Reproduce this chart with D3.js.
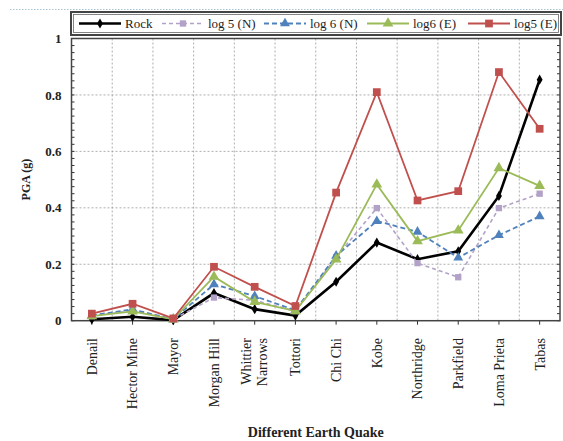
<!DOCTYPE html>
<html>
<head>
<meta charset="utf-8">
<script src="https://cdn.jsdelivr.net/npm/d3@7"></script>
<style>
  html, body { margin: 0; padding: 0; background: #fff; }
  svg { display: block; }
  text { font-family: "Liberation Serif", "Times New Roman", serif; fill: #222; }
</style>
</head>
<body>
<svg id="chart" width="563" height="441"></svg>
<script>
// Earthquake records along the x axis
const quakes = ["Denail", "Hector Mine", "Mayor", "Morgan Hill", "Whittier Narrows", "Tottori",
                "Chi Chi", "Kobe", "Northridge", "Parkfield", "Loma Prieta", "Tabas"];

// Peak ground acceleration (g) for each site condition
const rock   = [0.005, 0.014, 0.002, 0.098, 0.041, 0.018, 0.138, 0.277, 0.218, 0.246, 0.442, 0.854];
const log5N  = [0.016, 0.036, 0.005, 0.082, 0.072, 0.034, 0.225, 0.399, 0.204, 0.154, 0.399, 0.450];
const log6N  = [0.019, 0.040, 0.005, 0.129, 0.087, 0.037, 0.230, 0.353, 0.315, 0.223, 0.303, 0.370];
const log6E  = [0.016, 0.033, 0.005, 0.156, 0.067, 0.034, 0.217, 0.483, 0.282, 0.320, 0.541, 0.478];
const log5E  = [0.025, 0.060, 0.008, 0.191, 0.120, 0.052, 0.454, 0.810, 0.426, 0.459, 0.881, 0.680];

const yTicks = [0, 0.2, 0.4, 0.6, 0.8, 1];
const yTickLabels = ["0", "0.2", "0.4", "0.6", "0.8", "1"];

const series = [
  { name: "Rock",      values: rock,  color: "#000000", width: 2.6, dash: null,  marker: "diamond", size: 30 },
  { name: "log 5 (N)", values: log5N, color: "#b3a2c7", width: 1.6, dash: "4,3", marker: "square",  size: 40 },
  { name: "log 6 (N)", values: log6N, color: "#4f81bd", width: 1.8, dash: "5,3", marker: "triangle", size: 42 },
  { name: "log6 (E)",  values: log6E, color: "#9bbb59", width: 1.8, dash: null,  marker: "triangle", size: 50 },
  { name: "log5 (E)",  values: log5E, color: "#c0504d", width: 1.8, dash: null,  marker: "square",  size: 60 }
];

const svg = d3.select("#chart");
const plot = { left: 71.5, right: 560, top: 38.5, bottom: 320.7 };

const x = d3.scaleBand().domain(quakes).range([plot.left, plot.right]).padding(0);
const y = d3.scaleLinear().domain([0, 1]).range([plot.bottom, plot.top]);
const cx = d => x(d) + x.bandwidth() / 2;

// faint dotted rule across the top of the page
svg.append("line")
  .attr("x1", 10).attr("x2", 563).attr("y1", 9.5).attr("y2", 9.5)
  .attr("stroke", "#a9c4d6").attr("stroke-width", 1).attr("stroke-dasharray", "1.5,1.5");

// gridlines
const grid = svg.append("g");
grid.selectAll("line.h").data(yTicks.filter(t => t > 0 && t < 1)).join("line")
  .attr("x1", plot.left).attr("x2", plot.right)
  .attr("y1", d => y(d)).attr("y2", d => y(d))
  .attr("stroke", "#9a9a9a").attr("stroke-width", 0.8).attr("stroke-dasharray", "2,2");
grid.selectAll("line.v").data(quakes.slice(1)).join("line")
  .attr("x1", d => x(d)).attr("x2", d => x(d))
  .attr("y1", plot.top).attr("y2", plot.bottom)
  .attr("stroke", "#9a9a9a").attr("stroke-width", 0.8).attr("stroke-dasharray", "2,2");

// y axis (left) with major labels and minor ticks
const minor = d3.range(0, 1.0001, 0.025);
const yAxisL = svg.append("g").attr("transform", `translate(${plot.left},0)`)
  .call(d3.axisLeft(y).tickValues(yTicks).tickFormat((d, i) => yTickLabels[i]).tickSize(0).tickPadding(10));
yAxisL.select(".domain").remove();
yAxisL.selectAll("text")
  .style("font-family", "'Liberation Serif', serif").style("font-size", "13px")
  .style("font-weight", "bold").attr("fill", "#333");
svg.append("g").selectAll("line").data(minor).join("line")
  .attr("x1", plot.left).attr("x2", plot.left + 3)
  .attr("y1", d => y(d)).attr("y2", d => y(d))
  .attr("stroke", "#333").attr("stroke-width", 1);
svg.append("g").selectAll("line").data(minor).join("line")
  .attr("x1", plot.right).attr("x2", plot.right - 3)
  .attr("y1", d => y(d)).attr("y2", d => y(d))
  .attr("stroke", "#333").attr("stroke-width", 1);

// x axis ticks and rotated labels
const xAxis = svg.append("g").attr("transform", `translate(0,${plot.bottom})`)
  .call(d3.axisBottom(x).tickSize(4).tickFormat(""));
xAxis.select(".domain").remove();
xAxis.selectAll(".tick line").attr("stroke", "#333");

const labelG = svg.append("g");
quakes.forEach(q => {
  const words = q === "Whittier Narrows" ? ["Whittier", "Narrows"] : [q];
  const t = labelG.append("text")
    .attr("transform", `translate(${cx(q)},338) rotate(-90)`)
    .attr("text-anchor", "end")
    .style("font-size", "14px");
  words.forEach((w, i) => {
    t.append("tspan").attr("x", 0)
      .attr("dy", words.length === 1 ? "0.35em" : (i === 0 ? "-0.25em" : "1.15em"))
      .text(w);
  });
});

// plot frame
svg.append("rect")
  .attr("x", plot.left).attr("y", plot.top)
  .attr("width", plot.right - plot.left).attr("height", plot.bottom - plot.top)
  .attr("fill", "none").attr("stroke", "#444").attr("stroke-width", 1.5);

// axis titles
svg.append("text")
  .attr("transform", `translate(30,${(plot.top + plot.bottom) / 2}) rotate(-90)`)
  .attr("text-anchor", "middle")
  .style("font-size", "12px").style("font-weight", "bold")
  .text("PGA (g)");
svg.append("text")
  .attr("x", (plot.left + plot.right) / 2).attr("y", 437)
  .attr("text-anchor", "middle")
  .style("font-size", "14px").style("font-weight", "bold")
  .text("Different Earth Quake");

// series lines and markers
const line = d3.line().x((d, i) => cx(quakes[i])).y(d => y(d));
const symbolType = { diamond: d3.symbolDiamond, square: d3.symbolSquare, triangle: d3.symbolTriangle };

series.forEach(s => {
  const g = svg.append("g");
  g.append("path")
    .attr("d", line(s.values))
    .attr("fill", "none").attr("stroke", s.color)
    .attr("stroke-width", s.width)
    .attr("stroke-dasharray", s.dash);
  g.selectAll("path.m").data(s.values).join("path")
    .attr("class", "m")
    .attr("transform", (d, i) => `translate(${cx(quakes[i])},${y(d)})`)
    .attr("d", d3.symbol().type(symbolType[s.marker]).size(s.size))
    .attr("fill", s.color);
});

// legend
const leg = { x: 71, y: 12, w: 490, h: 23 };
svg.append("rect").attr("x", leg.x).attr("y", leg.y).attr("width", leg.w).attr("height", leg.h)
  .attr("fill", "#fff").attr("stroke", "#444").attr("stroke-width", 2);
svg.append("rect").attr("x", leg.x + 2.5).attr("y", leg.y + 2.5).attr("width", leg.w - 5).attr("height", leg.h - 5)
  .attr("fill", "none").attr("stroke", "#666").attr("stroke-width", 0.8);

const legendX = [79, 162, 264, 367, 468];
series.forEach((s, i) => {
  const lx = legendX[i], ly = leg.y + leg.h / 2;
  const g = svg.append("g");
  g.append("line").attr("x1", lx).attr("x2", lx + 42).attr("y1", ly).attr("y2", ly)
    .attr("stroke", s.color).attr("stroke-width", s.width).attr("stroke-dasharray", s.dash);
  g.append("path").attr("transform", `translate(${lx + 21},${ly})`)
    .attr("d", d3.symbol().type(symbolType[s.marker]).size(s.size))
    .attr("fill", s.color);
  g.append("text").attr("x", lx + 46).attr("y", ly).attr("dy", "0.35em")
    .style("font-size", "13px").text(s.name);
});
</script>
</body>
</html>
